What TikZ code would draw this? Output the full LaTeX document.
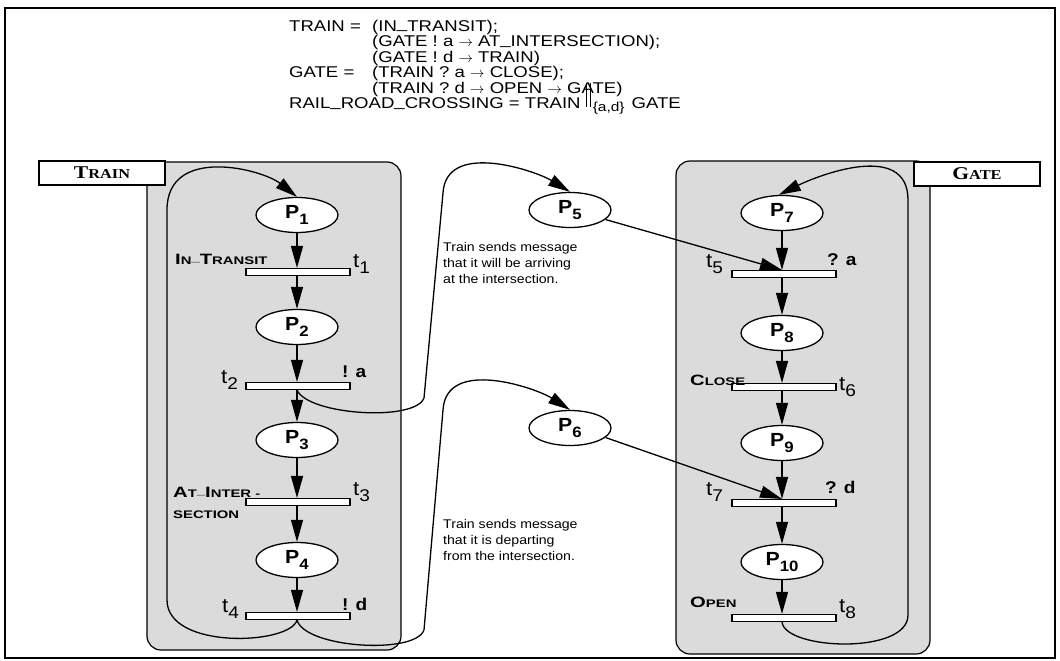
\documentclass[tikz,border=0pt]{standalone}
\usepackage{fontspec}
\setmainfont{Liberation Sans}[FakeStretch=1.12]
\newfontfamily\titlef{Liberation Sans}[FakeStretch=1.19]
\newfontfamily\scf{Liberation Sans}[FakeStretch=1.35]
\newfontfamily\serf{Liberation Serif}[FakeStretch=1.2]
\usetikzlibrary{arrows.meta,shapes.geometric}
\newcommand\fs[1]{\fontsize{#1}{#1}\selectfont}
\newcommand\us{\raisebox{2.6pt}{\_}}
\newcommand\plab[1]{{\fs{19}\bfseries P}\raisebox{-6pt}{\fs{15}\bfseries #1}}
\newcommand\tlab[1]{{\fs{20}t}\raisebox{-6pt}{\fs{17}#1}}
\begin{document}
\begin{tikzpicture}[x=1pt,y=-1pt,
 place/.style={ellipse,draw,fill=white,line width=1.3pt,minimum width=82pt,minimum height=35pt,inner sep=0pt},
 bar/.style={rectangle,draw,fill=white,line width=1.1pt,minimum width=104pt,minimum height=7pt,inner sep=0pt},
 arr/.style={-{Triangle[length=22pt,width=12pt]},line width=1.3pt},
 lbl/.style={inner sep=0pt,anchor=base west},
 zone/.style={draw,line width=1.2pt,fill=black!14,rounded corners=14pt},
 tag/.style={draw,fill=white,line width=1.4pt,minimum width=126pt,minimum height=24pt,inner sep=0pt}]

\useasboundingbox (0,0) rectangle (1060,661);
\draw[line width=2.5pt] (5,8) rectangle (1055,658);

% shaded zones
\path[zone] (147,162) rectangle (401,650);
\path[zone] (676,161) rectangle (930,654);

% title (one block, fixed 15.5pt line pitch)
\node[inner sep=0pt,anchor=north west,align=left,
  font={\titlef\fontsize{15.6}{15.5}\selectfont\lineskiplimit=-30pt\lineskip=0pt}] (head) at (289,19) {%
\rule{0pt}{12pt}\makebox[83pt][l]{TRAIN =}(IN\us TRANSIT);\\
\hspace*{83pt}(GATE ! a $\rightarrow$ AT\us INTERSECTION);\\
\hspace*{83pt}(GATE ! d $\rightarrow$ TRAIN)\\
\makebox[83pt][l]{GATE =}(TRAIN ? a $\rightarrow$ CLOSE);\\
\hspace*{83pt}(TRAIN ? d $\rightarrow$ OPEN $\rightarrow$ GATE)\\
RAIL\us ROAD\us CROSSING = TRAIN\hspace{5pt}\rule[2pt]{1pt}{24pt}\hspace{3pt}\rule[2pt]{1pt}{24pt}\raisebox{-3pt}{\fs{13}\,\{a,d\}}\hspace{7pt}GATE};

% train net
\node[place] (P1) at (297,215) {\plab{1}};
\node[bar] (t1) at (298,272) {};
\node[place] (P2) at (297,327) {\plab{2}};
\node[bar] (t2) at (298,386) {};
\node[place] (P3) at (297,440) {\plab{3}};
\node[bar] (t3) at (298,502) {};
\node[place] (P4) at (297,560) {\plab{4}};
\node[bar] (t4) at (298,616) {};

% gate net
\node[place] (P7) at (782,213) {\plab{7}};
\node[bar] (t5) at (784,274) {};
\node[place] (P8) at (782,333) {\plab{8}};
\node[bar] (t6) at (784,387) {};
\node[place] (P9) at (782,443) {\plab{9}};
\node[bar] (t7) at (784,503) {};
\node[place] (P10) at (782,562) {\plab{10}};
\node[bar] (t8) at (784,618) {};

% message places
\node[place] (P5) at (570,210) {\plab{5}};
\node[place] (P6) at (570,428) {\plab{6}};

% vertical arcs
\draw[arr] (P1.south) -- (P1 |- t1.north);
\draw[arr] (P2 |- t1.south) -- (P2.north);
\draw[arr] (P2.south) -- (P2 |- t2.north);
\draw[arr] (P3 |- t2.south) -- (P3.north);
\draw[arr] (P3.south) -- (P3 |- t3.north);
\draw[arr] (P4 |- t3.south) -- (P4.north);
\draw[arr] (P4.south) -- (P4 |- t4.north);

\draw[arr] (P7.south) -- (P7 |- t5.north);
\draw[arr] (P8 |- t5.south) -- (P8.north);
\draw[arr] (P8.south) -- (P8 |- t6.north);
\draw[arr] (P9 |- t6.south) -- (P9.north);
\draw[arr] (P9.south) -- (P9 |- t7.north);
\draw[arr] (P10 |- t7.south) -- (P10.north);
\draw[arr] (P10.south) -- (P10 |- t8.north);

% loops
\draw[arr] (P4 |- t4.south) .. controls (290,645) and (167,650) .. (167,600) -- (167,210) .. controls (167,145) and (262,169) .. (P1.north);
\draw[arr] (P10 |- t8.south) .. controls (785,650) and (908,655) .. (908,615) -- (908,200) .. controls (908,140) and (817,176) .. (P7.100);

% sends
\draw[arr] (P2 |- t2.south) .. controls (308,415) and (415,422) .. (424,398) -- (443,193) .. controls (446,140) and (536,171) .. (P5.north);
\draw[arr] (P4 |- t4.south) .. controls (305,648) and (415,655) .. (424,630) -- (443,410) .. controls (446,357) and (536,388) .. (P6.north);

% receives
\draw[arr] (P5.-15) -- (P7 |- t5.north);
\draw[arr] (P6.-15) -- (P9 |- t7.north);

% transition labels
\node[lbl] (l1) at (175,264) {\scf\bfseries\fs{15}I\fs{11}N\us\fs{15}T\fs{11}RANSIT};
\node[lbl] (n1) at (353,267) {\tlab{1}};
\node[lbl] (n2) at (221,383) {\tlab{2}};
\node[lbl] (s2) at (342,377) {\fs{17}\bfseries ! a};
\node[lbl] (l3a) at (173,497) {\scf\bfseries\fs{15}A\fs{11}T\us\fs{15}I\fs{11}NTER -};
\node[lbl] (l3b) at (173,518) {\scf\bfseries\fs{11}SECTION};
\node[lbl] (n3) at (353,495) {\tlab{3}};
\node[lbl] (n4) at (222,612) {\tlab{4}};
\node[lbl] (s4) at (342,610) {\fs{17}\bfseries ! d};
\node[lbl] (n5) at (706,267) {\tlab{5}};
\node[lbl] (s5) at (827,265) {\fs{17}\bfseries ? a};
\node[lbl] (l6) at (690,385) {\scf\bfseries\fs{15}C\fs{11}LOSE};
\node[lbl] (n6) at (839,390) {\tlab{6}};
\node[lbl] (n7) at (706,495) {\tlab{7}};
\node[lbl] (s7) at (825,493) {\fs{17}\bfseries ? d};
\node[lbl] (l8) at (690,607) {\scf\bfseries\fs{15}O\fs{11}PEN};
\node[lbl] (n8) at (839,612) {\tlab{8}};

% message notes
\node[lbl] (m1a) at (443,251) {\fs{12.6}Train sends message};
\node[lbl] (m1b) at (443,267) {\fs{12.6}that it will be arriving};
\node[lbl] (m1c) at (443,283) {\fs{12.6}at the intersection.};
\node[lbl] (m2a) at (443,528) {\fs{12.6}Train sends message};
\node[lbl] (m2b) at (443,544) {\fs{12.6}that it is departing};
\node[lbl] (m2c) at (443,560) {\fs{12.6}from the intersection.};

% tags
\node[tag] (TR) at (102,173) {\serf\bfseries\fs{18}T\fs{13.6}RAIN};
\node[tag] (GA) at (977,174) {\serf\bfseries\fs{18}G\fs{13.6}ATE};
\end{tikzpicture}
\end{document}
